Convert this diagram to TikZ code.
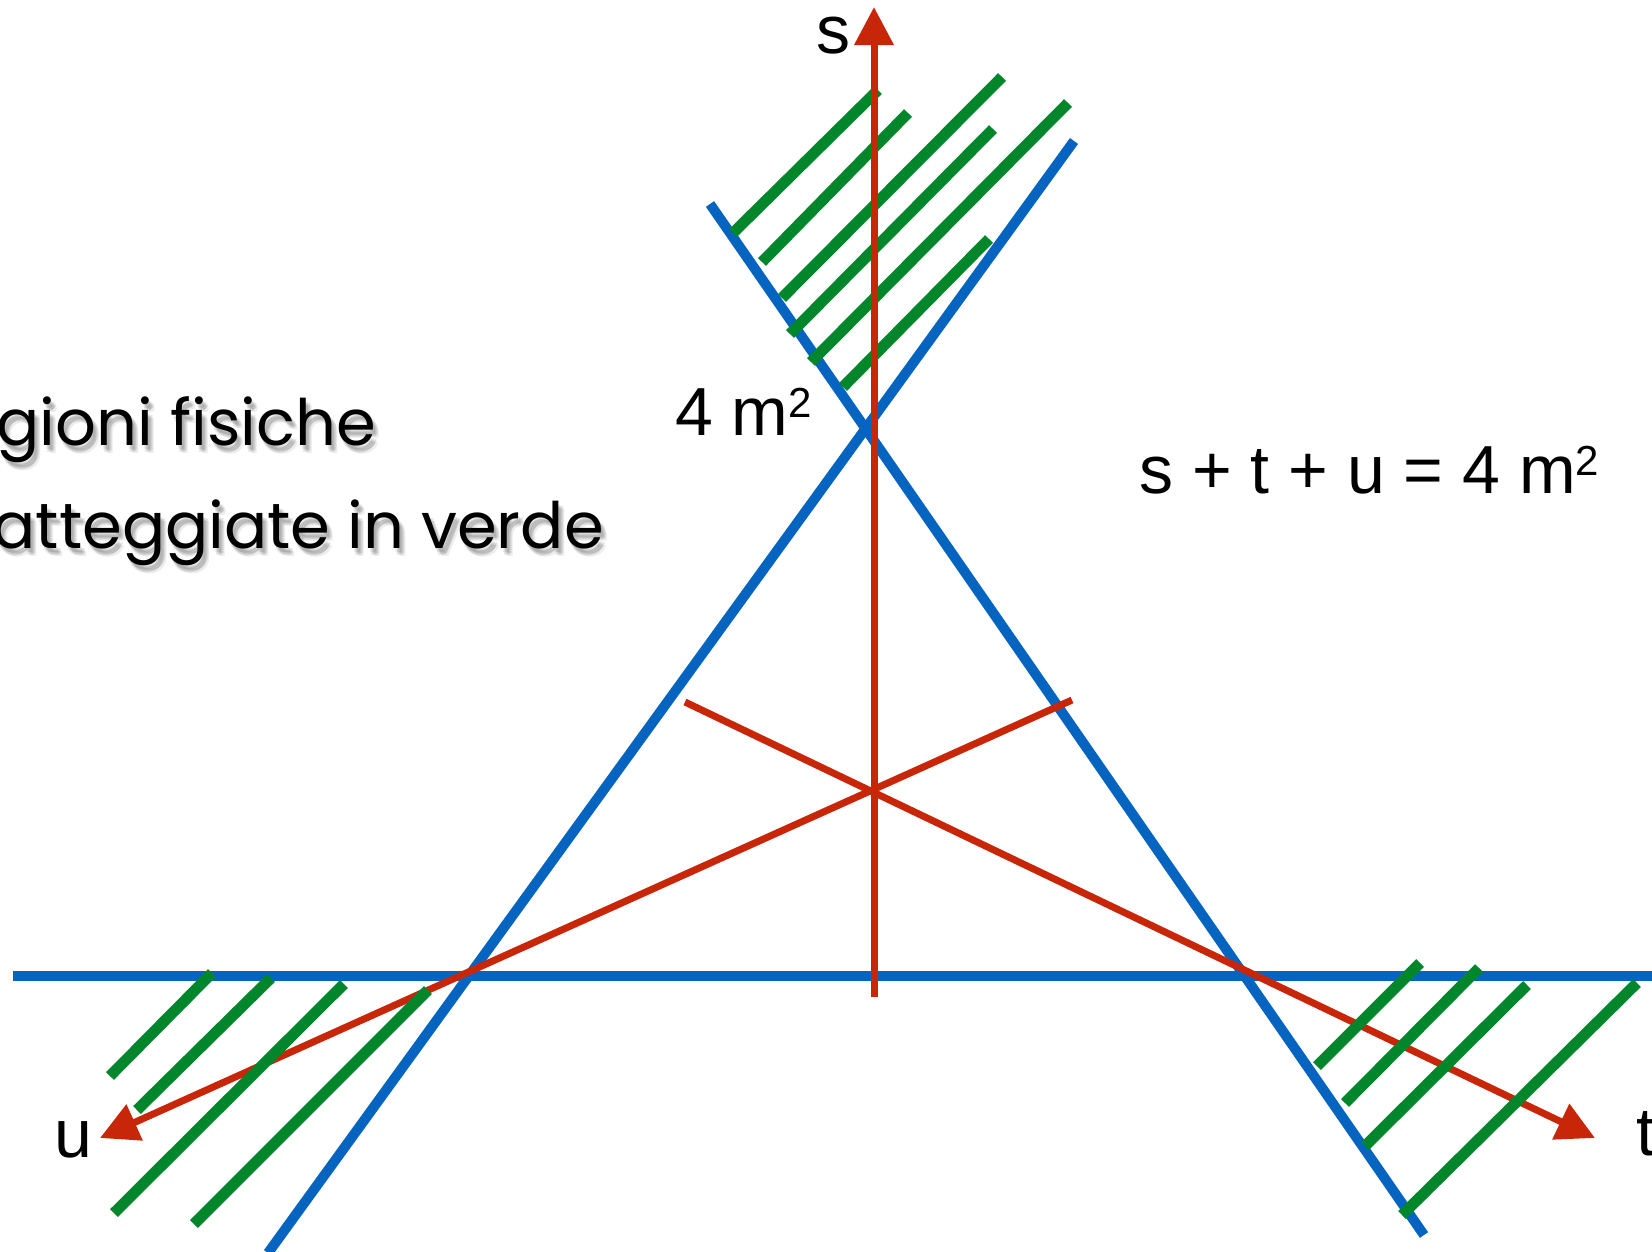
\documentclass[tikz,border=0pt]{standalone}
\usepackage{fontspec}
\setmainfont{Liberation Sans}
\newfontfamily\handfont{Poppins}
\usetikzlibrary{arrows.meta}
\definecolor{axisred}{RGB}{200,38,8}
\definecolor{lineblue}{RGB}{5,100,192}
\definecolor{hatchgreen}{RGB}{2,134,44}
\newcommand{\sqmark}{\raisebox{18pt}{\fontsize{42}{42}\selectfont 2}}
\begin{document}
\begin{tikzpicture}[x=1pt,y=-1pt,
  blueline/.style={draw=lineblue,line width=10pt},
  redaxis/.style={draw=axisred,line width=7pt},
  hatch/.style={draw=hatchgreen,line width=11pt},
  tiparrow/.style={-{Triangle[length=38pt,width=38pt]}},
  lbl/.style={inner sep=0pt,anchor=base west,font=\fontsize{68}{68}\selectfont},
  hand/.style={inner sep=0pt,anchor=base east,font=\handfont\fontsize{64}{70}\selectfont}]
\useasboundingbox (0,0) rectangle (1652,1251);
\clip (0,0) rectangle (1652,1251);
\fill[white] (0,0) rectangle (1652,1251);

% named points
\coordinate (sBot) at (874,997);
\coordinate (sTop) at (874,7);
\coordinate (uStart) at (1072,700);
\coordinate (uTip) at (100,1138);
\coordinate (tStart) at (685,702);
\coordinate (tTip) at (1595,1138);
\coordinate (hL) at (13,976);
\coordinate (hR) at (1665,976);
\coordinate (aTop) at (710,204);
\coordinate (aBot) at (1424,1235);
\coordinate (bTop) at (1074,141);
\coordinate (bBot) at (268,1253);

% blue lines
\draw[blueline] (hL) -- (hR);
\draw[blueline] (aTop) -- (aBot);
\draw[blueline] (bTop) -- (bBot);

% red u and t axes
\draw[redaxis,tiparrow] (uStart) -- (uTip);
\draw[redaxis,tiparrow] (tStart) -- (tTip);

% green hatching
\foreach \xa/\ya/\xb/\yb in {
  733/233/878/90, 762/262/908/113, 782/298/1002/77,
  790/334/993/129, 811/362/1068/103, 843/387/989/239,
  110/1076/212/973, 137/1110/271/978, 114/1213/344/984, 194/1224/428/990,
  1317/1066/1420/963, 1345/1103/1479/968, 1365/1146/1527/985, 1402/1215/1637/983}
  \draw[hatch] (\xa,\ya) -- (\xb,\yb);

% red s axis
\draw[redaxis,tiparrow] (sBot) -- (sTop);

% labels
\node[lbl] (slbl) at (816,53) {s};
\node[lbl] (m2lbl) at (675,435) {4 m\sqmark};
\node[lbl] (ulbl) at (54,1157) {u};
\node[lbl] (tlbl) at (1636,1155) {t};
\node[lbl] (eq) at (1139,493) {s + t + u = 4 m\sqmark};

% left text with soft shadow
\foreach \dx/\dy [count=\i] in {2/4,4/6,6/8,3/7,5/5} {
  \node[hand,text=black,opacity=0.07] (shA\i) at (376+\dx,445+\dy) {Regioni fisiche};
  \node[hand,text=black,opacity=0.07] (shB\i) at (604+\dx,548+\dy) {tratteggiate in verde};
}
\node[hand] (reg1) at (376,445) {Regioni fisiche};
\node[hand] (reg2) at (604,548) {tratteggiate in verde};
\end{tikzpicture}
\end{document}
